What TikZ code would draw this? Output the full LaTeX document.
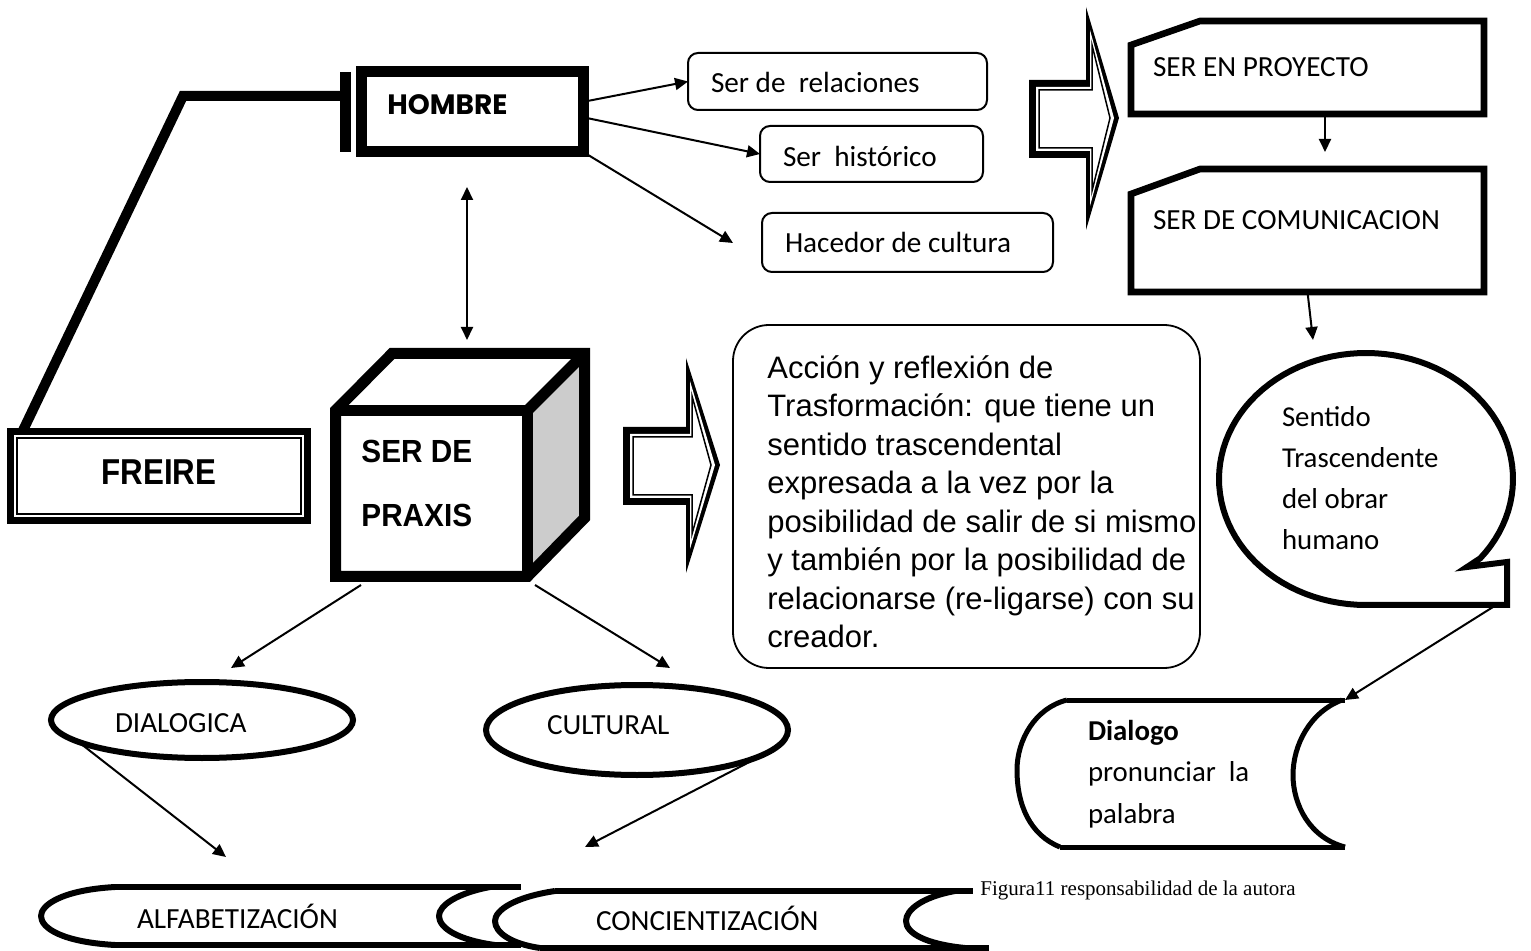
\documentclass[tikz,border=0pt]{standalone}
\usepackage{fontspec}
\setmainfont{Carlito}
\newfontfamily\arialfont{Liberation Sans}
\newfontfamily\timesfont{Liberation Serif}
\newfontfamily\hombrefont{Poppins}
\newfontfamily\freirefont[FakeStretch=0.87]{Liberation Sans}
\newfontfamily\praxisfont[FakeStretch=0.93]{Liberation Sans}
\usetikzlibrary{shapes.geometric,arrows.meta,calc}
\definecolor{facegray}{RGB}{204,204,204}
\tikzset{
  bold-frame/.style={draw, line width=5.5pt, inner sep=0pt, outer sep=0pt},
  soft-box/.style={draw, rounded corners=5pt, line width=1pt, inner sep=0pt, outer sep=0pt},
  anchor-box/.style={inner sep=0pt, outer sep=0pt},
  cut-frame/.style={line width=3.3pt, line join=miter},
  oval/.style={ellipse, draw, line width=3pt, inner sep=0pt, outer sep=0pt},
  scroll-line/.style={line width=3pt, line join=round},
  heavy/.style={line width=5pt, line join=miter},
  cube-line/.style={line width=5.5pt, line join=miter},
  bubble-line/.style={line width=3pt, line join=miter},
  arr/.style={line width=1pt, -{Triangle[length=6.5pt,width=6pt]}},
  arr-both/.style={line width=1pt, {Triangle[length=6.5pt,width=6pt]}-{Triangle[length=6.5pt,width=6pt]}},
  txt-cal/.style={font=\fontsize{14.6}{17.5}\selectfont, inner sep=0pt, outer sep=0pt, anchor=base west},
  txt-cal2/.style={txt-cal, font=\fontsize{14.4}{20.6}\selectfont, align=left},
  txt-arial/.style={font=\arialfont\fontsize{15.5}{19.25}\selectfont, inner sep=0pt, anchor=base west, align=left},
  txt-hombre/.style={font=\hombrefont\bfseries\fontsize{14}{16}\selectfont, inner sep=0pt, anchor=base west},
  txt-freire/.style={font=\freirefont\bfseries\fontsize{18}{20}\selectfont, inner sep=0pt, anchor=base},
  txt-praxis/.style={font=\praxisfont\bfseries\fontsize{16}{32}\selectfont, inner sep=0pt, anchor=west, align=left},
  txt-small/.style={font=\timesfont\fontsize{10.5}{12}\selectfont, inner sep=0pt, anchor=base west}
}

\begin{document}
\begin{tikzpicture}[x=0.5pt,y=-0.5pt]
  \useasboundingbox (0,0) rectangle (1531,951);

  % HOMBRE and FREIRE
  \node[bold-frame, minimum width=111pt, minimum height=40pt] (hombre) at (472.5,111.5) {};
  \node[txt-hombre] (hombre-t) at (387,115) {HOMBRE};
  \node[bold-frame, line width=3.5pt, minimum width=148.5pt, minimum height=44.5pt] (freire) at (159,476) {};
  \node[draw, line width=0.75pt, minimum width=142pt, minimum height=38pt, inner sep=0pt] (freire-in) at (159,476) {};
  \node[txt-freire] (freire-t) at (159,485) {FREIRE};

  % bracket from FREIRE up to HOMBRE
  \coordinate (bend) at (183,96);
  \coordinate (tee) at (345.5,96);
  \draw[heavy] ($(freire.north west)+(12,0)$) -- (bend) -- (tee);
  \draw[line width=5.5pt] ($(tee)+(0,-24)$) -- ($(tee)+(0,56)$);

  % three qualities of man
  \node[soft-box, minimum width=149.5pt, minimum height=28.5pt] (rel) at (837.5,81.5) {};
  \node[txt-cal] (rel-t) at (711,93) {Ser de\ \ relaciones};
  \node[soft-box, minimum width=111.5pt, minimum height=28pt] (hist) at (871.5,154) {};
  \node[txt-cal] (hist-t) at (783,167) {Ser\ \ histórico};
  \node[soft-box, minimum width=145.5pt, minimum height=29.5pt] (hac) at (907.5,242.5) {};
  \node[txt-cal] (hac-t) at (785,253) {Hacedor de cultura};
  \coordinate (hac-in) at (733,243);
  \draw[arr] (hombre.5) -- (rel.west);
  \draw[arr] (hombre.-3) -- (hist.west);
  \draw[arr] (hombre.-20) -- (hac-in);

  % hollow arrow (top)
  \fill (1029,80) -- (1086,80) -- (1086,7) -- (1119,118) -- (1086,230) -- (1086,158) -- (1029,158) -- cycle;
  \fill[white] (1036,87) -- (1090,87) -- (1090,30) -- (1114,118) -- (1090,206) -- (1090,151) -- (1036,151) -- cycle;
  \draw[line width=0.75pt] (1039,90) -- (1092,90) -- (1092,45) -- (1110,118) -- (1092,191) -- (1092,148) -- (1039,148) -- cycle;

  % right column
  \node[anchor-box, minimum width=176.5pt, minimum height=46.5pt] (proy) at (1307.5,67.5) {};
  \draw[cut-frame] (proy.south west) -- ($(proy.north west)+(0,24)$) -- ($(proy.north west)+(69,0)$) -- (proy.north east) -- (proy.south east) -- cycle;
  \node[txt-cal] (proy-t) at (1153,77) {SER EN PROYECTO};
  \node[anchor-box, minimum width=176.5pt, minimum height=61.5pt] (comu) at (1307.5,230.5) {};
  \draw[cut-frame] (comu.south west) -- ($(comu.north west)+(0,25)$) -- ($(comu.north west)+(69,0)$) -- (comu.north east) -- (comu.south east) -- cycle;
  \node[txt-cal] (comu-t) at (1153,230) {SER DE COMUNICACION};
  \coordinate (comu-in) at (1325,152);
  \draw[arr] (proy.south -| comu-in) -- (comu-in);
  \coordinate (bub-in) at (1313,340);
  \draw[arr] (comu.south) -- (bub-in);

  % speech bubble
  \draw[bubble-line] plot[domain=90:399, samples=90] ({1366+147*cos(\x)},{479+126*sin(\x)}) -- (1467,567) -- (1507,562) -- (1507,605) -- cycle;
  \node[txt-cal2] (sent-t) at (1282,550) {Sentido\\Trascendente\\del obrar\\humano};
  \coordinate (bub-out) at (1493,607);

  % Dialogo
  \node[anchor-box, minimum width=164pt, minimum height=73.5pt] (dlg) at (1181,773.5) {};
  \draw[scroll-line, line width=2.5pt] (1067,700) -- (1345,700) (1060,847) -- (1345,847);
  \draw[scroll-line, line width=2.5pt] (1067,700) .. controls (1035,708) and (1017,740) .. (1017,770) .. controls (1017,805) and (1030,835) .. (1060,847);
  \draw[scroll-line, line width=2.5pt] (1342,700) .. controls (1310,712) and (1293,745) .. (1293,775) .. controls (1293,805) and (1310,838) .. (1345,847);
  \node[txt-cal2] (dlg-t) at (1088,823) {\textbf{Dialogo}\\pronunciar\ \ la\\palabra};
  \draw[arr] (bub-out) -- (dlg.north east);

  % cube
  \fill[facegray] (527.5,410.5) -- (584.5,353.5) -- (584.5,518) -- (527.5,576.5) -- cycle;
  \draw[cube-line] (335.5,576.5) -- (335.5,410.5) -- (392,353.5) -- (584.5,353.5) -- (584.5,518) -- (527.5,576.5) -- cycle;
  \draw[cube-line] (335.5,410.5) -- (527.5,410.5) -- (527.5,576.5);
  \draw[cube-line] (527.5,410.5) -- (584.5,353.5);
  \node[txt-praxis] (praxis-t) at (361,483.5) {SER DE\\PRAXIS};
  \coordinate (man-low) at (467,187);
  \coordinate (cube-top) at (467,340);
  \draw[arr-both] (man-low) -- (cube-top);

  % hollow arrow (middle)
  \fill (623,427) -- (686,427) -- (686,358) -- (720,465) -- (686,573) -- (686,505) -- (623,505) -- cycle;
  \fill[white] (630,434) -- (690,434) -- (690,381) -- (715,465) -- (690,549) -- (690,498) -- (630,498) -- cycle;
  \draw[line width=0.75pt] (633,437) -- (692,437) -- (692,396) -- (711,465) -- (692,534) -- (692,495) -- (633,495) -- cycle;

  % praxis text box
  \node[soft-box, rounded corners=18pt, line width=0.9pt, minimum width=233.5pt, minimum height=171.5pt] (acc) at (966.5,496.5) {};
  \node[txt-arial] (acc-t) at (767,647.5) {Acción y reflexión de\\Trasformación: que tiene un\\sentido trascendental\\expresada a la vez por la\\posibilidad de salir de si mismo\\y también por la posibilidad de\\relacionarse (re-ligarse) con su\\creador.};

  % two dimensions
  \node[oval, minimum width=151pt, minimum height=38pt] (dial) at (202,720) {};
  \node[txt-cal] (dial-t) at (115,732) {DIALOGICA};
  \node[oval, minimum width=151pt, minimum height=45pt] (cult) at (637,730) {};
  \node[txt-cal] (cult-t) at (547,734) {CULTURAL};
  \coordinate (cube-l) at (361,585);
  \coordinate (cube-r) at (535,585);
  \coordinate (dial-in) at (231,668);
  \coordinate (cult-in) at (670,668);
  \draw[arr] (cube-l) -- (dial-in);
  \draw[arr] (cube-r) -- (cult-in);

  % scrolls
  \draw[scroll-line] (115,887) -- (521,887) (115,945) -- (521,945);
  \draw[scroll-line] (115,887) .. controls (62,890) and (41,905) .. (41,916) .. controls (41,928) and (62,942) .. (115,945);
  \draw[scroll-line] (490,887) .. controls (458,893) and (439,905) .. (439,916) .. controls (439,928) and (458,940) .. (495,945);
  \node[txt-cal] (alfa-t) at (137,928) {ALFABETIZACIÓN};
  \draw[scroll-line] (555,891) -- (973,891) (540,948) -- (989,948);
  \draw[scroll-line] (555,891) .. controls (515,897) and (495,910) .. (495,921) .. controls (495,933) and (512,944) .. (540,948);
  \draw[scroll-line] (955,891) .. controls (922,897) and (906,910) .. (906,921) .. controls (906,933) and (925,944) .. (965,948);
  \node[txt-cal] (conc-t) at (596,930) {CONCIENTIZACIÓN};
  \coordinate (alfa-in) at (226,857);
  \coordinate (conc-in) at (585,847);
  \draw[arr] (dial.190) -- (alfa-in);
  \draw[arr] (cult.-10) -- (conc-in);

  \node[txt-small] (fig-cap) at (980,895) {Figura11 responsabilidad de la autora};
\end{tikzpicture}
\end{document}
